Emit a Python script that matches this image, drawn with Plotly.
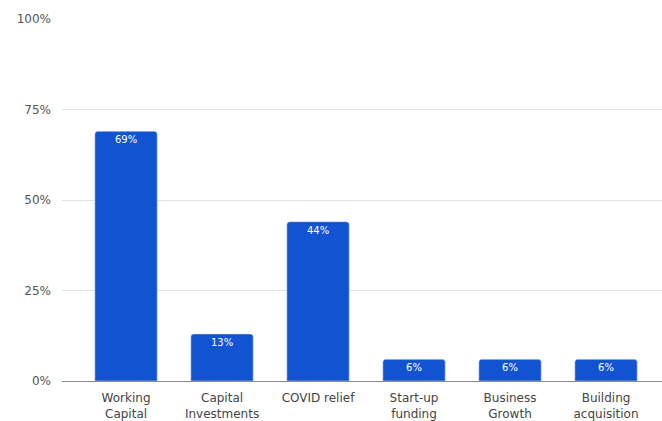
import plotly.graph_objects as go

categories = ["Working<br>Capital", "Capital<br>Investments", "COVID relief", "Start-up<br>funding", "Business<br>Growth", "Building<br>acquisition"]
values = [69, 13, 44, 6, 6, 6]
tick_vals = [0, 25, 50, 75, 100]
tick_text = ["0%", "25%", "50%", "75%", "100%"]

fig = go.Figure(go.Bar(
    x=list(range(len(categories))),
    y=values,
    text=[f"{v}%" for v in values],
    textposition="inside",
    insidetextanchor="end",
    textfont=dict(color="white", size=10, family="DejaVu Sans"),
    marker=dict(color="#1253d1", cornerradius=3),
    width=0.65,
    hoverinfo="skip",
))

fig.update_layout(
    width=662, height=421,
    margin=dict(l=62, r=0, t=19, b=40),
    paper_bgcolor="white", plot_bgcolor="white",
    showlegend=False,
    font=dict(family="DejaVu Sans", size=12, color="#555555"),
    uniformtext=dict(minsize=8, mode="show"),
)
fig.update_xaxes(
    range=[-0.667, 5.583],
    tickvals=list(range(len(categories))),
    ticktext=categories,
    showgrid=False, zeroline=False,
    showline=True, linecolor="#8a8a8a", linewidth=1,
    ticks="", ticklabelstandoff=6,
    tickfont=dict(size=12, color="#444444"),
)
fig.update_yaxes(
    range=[0, 100],
    tickvals=tick_vals, ticktext=tick_text,
    showgrid=True, gridcolor="#e3e3e3", gridwidth=1,
    zeroline=False, showline=False,
    ticks="", ticklabelstandoff=10,
    tickfont=dict(size=12, color="#555555"),
)

fig.write_html("out.html", config={"displayModeBar": False},
               post_script="document.body.style.margin='0';")
